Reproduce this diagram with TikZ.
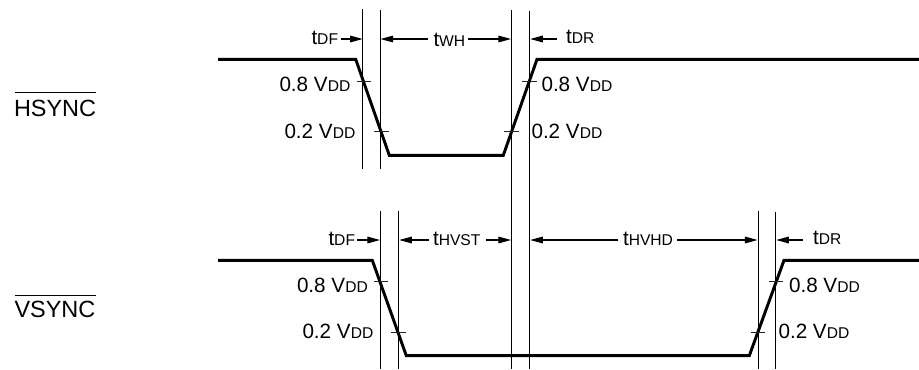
\documentclass[tikz,border=0pt]{standalone}
\usepackage{fontspec}
\setmainfont{Liberation Sans}
\usetikzlibrary{arrows.meta}
\tikzset{
  x=0.75pt,y=-0.75pt,
  thin line/.style={line width=1.1pt,black},
  wave/.style={line width=2.2pt,line join=miter,line cap=butt,black},
  tickmark/.style={line width=0.75pt,black!85},
  dim/.style={line width=0.8pt,-{Triangle[length=9.5pt,width=5pt]}},
  lab/.style={inner sep=0pt,outer sep=0pt,anchor=base west,font=\fontsize{15.5pt}{18pt}\selectfont},
  sig/.style={lab,font=\fontsize{17.6pt}{20pt}\selectfont}
}
\newcommand{\subs}[2]{#1{\fontsize{11.7pt}{13pt}\selectfont #2}}
\begin{document}
\begin{tikzpicture}
\useasboundingbox (0,0) rectangle (919,369);
% vertical guides
\coordinate (a1) at (362.5,9); \coordinate (a2) at (362.5,169);
\coordinate (b1) at (380.5,10); \coordinate (b2) at (380.5,169);
\coordinate (c1) at (511.5,10); \coordinate (c2) at (511.5,369);
\coordinate (d1) at (529.5,11); \coordinate (d2) at (529.5,369);
\coordinate (e1) at (398.5,211); \coordinate (e2) at (398.5,369);
\coordinate (f1) at (380.5,211); \coordinate (f2) at (380.5,369);
\coordinate (g1) at (758.5,211); \coordinate (g2) at (758.5,369);
\coordinate (h1) at (775.5,212); \coordinate (h2) at (775.5,369);
\foreach \p/\q in {a1/a2,b1/b2,c1/c2,d1/d2,e1/e2,f1/f2,g1/g2,h1/h2}
  \draw[thin line] (\p) -- (\q);
% waveforms
\draw[wave] (218,59.3) -- (355.7,59.3) -- (389.3,155.3) -- (503.3,155.3) -- (537,59.3) -- (919,59.3);
\draw[wave] (218,260.3) -- (372.3,260.3) -- (406.3,355.7) -- (749.3,355.7) -- (784,260.3) -- (919,260.3);
% ticks
\draw[tickmark] (357,81)--(371,81) (374,131.7)--(389,131.7) (522,81)--(536.7,81) (504,131.7)--(518.7,131.7);
\draw[tickmark] (374,281.7)--(388,281.7) (391,332.7)--(405.7,332.7) (769,281.7)--(783,281.7) (750.7,332.7)--(765,332.7);
% top dims
\coordinate (s1) at (341,39); \coordinate (e11) at (362.7,39);
\coordinate (s2) at (428,39); \coordinate (e12) at (380.5,39);
\coordinate (s3) at (468,39); \coordinate (e13) at (511,39);
\coordinate (s4) at (557,39); \coordinate (e14) at (530.2,39);
\draw[dim] (s1)--(e11); \draw[dim] (s2)--(e12); \draw[dim] (s3)--(e13); \draw[dim] (s4)--(e14);
% bottom dims
\coordinate (s5) at (357,240); \coordinate (e15) at (380,240);
\coordinate (s6) at (429,240); \coordinate (e16) at (399.2,240);
\coordinate (s7) at (486,240); \coordinate (e17) at (511,240);
\coordinate (s8) at (618,240); \coordinate (e18) at (530.2,240);
\coordinate (s9) at (677,240); \coordinate (e19) at (757.5,240);
\coordinate (s10) at (803,240); \coordinate (e20) at (776.2,240);
\draw[dim] (s5)--(e15); \draw[dim] (s6)--(e16); \draw[dim] (s7)--(e17); \draw[dim] (s8)--(e18); \draw[dim] (s9)--(e19); \draw[dim] (s10)--(e20);
% labels
\node[lab] (t1) at (311.5,44) {\subs{t}{DF}};
\node[lab] (t2) at (433.5,46.5) {\subs{t}{WH}};
\node[lab] (t3) at (566,43.5) {\subs{t}{DR}};
\node[lab] (t4) at (328.5,245.5) {\subs{t}{DF}};
\node[lab] (t5) at (433,245) {\subs{t}{HVST}};
\node[lab] (t6) at (623,245) {\subs{t}{HVHD}};
\node[lab] (t7) at (813,244) {\subs{t}{DR}};
\node[lab] (v1) at (279.5,91.5) {\subs{0.8 V}{DD}};
\node[lab] (v2) at (284.5,138.5) {\subs{0.2 V}{DD}};
\node[lab] (v3) at (541.5,91.5) {\subs{0.8 V}{DD}};
\node[lab] (v4) at (531.5,138.5) {\subs{0.2 V}{DD}};
\node[lab] (v5) at (297,292.5) {\subs{0.8 V}{DD}};
\node[lab] (v6) at (302.5,338.5) {\subs{0.2 V}{DD}};
\node[lab] (v7) at (789,292.5) {\subs{0.8 V}{DD}};
\node[lab] (v8) at (778.5,338.5) {\subs{0.2 V}{DD}};
\node[sig] (hs) at (14,116) {HSYNC};
\node[sig] (vs) at (14.5,317.5) {VSYNC};
\coordinate (hb1) at (14.5,92.7); \coordinate (hb2) at (96,92.7);
\coordinate (vb1) at (14.5,295.3); \coordinate (vb2) at (96,295.3);
\draw[line width=0.8pt] (hb1) -- (hb2);
\draw[line width=0.8pt] (vb1) -- (vb2);
\end{tikzpicture}
\end{document}
